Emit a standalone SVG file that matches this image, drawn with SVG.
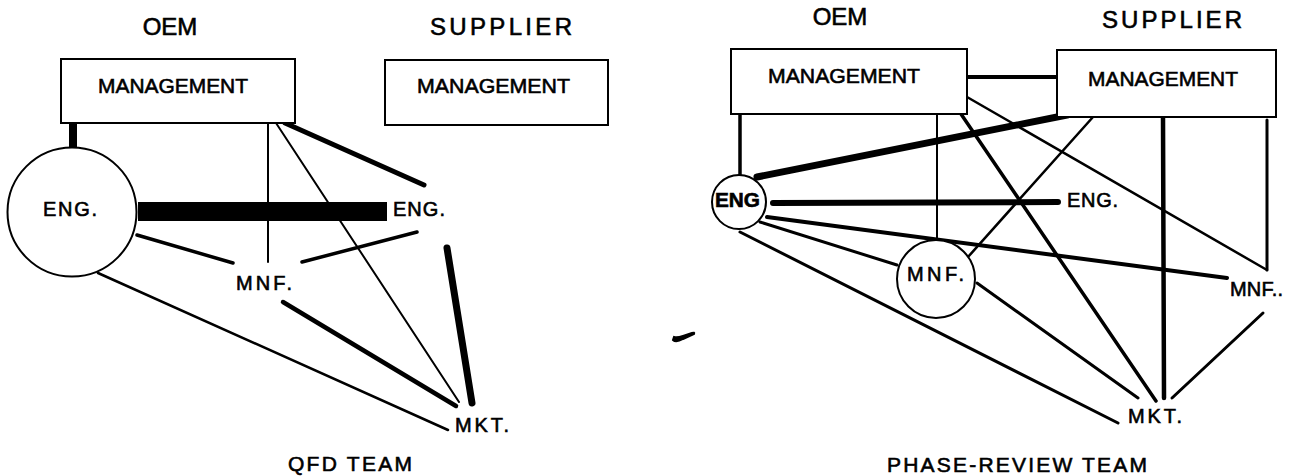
<svg xmlns="http://www.w3.org/2000/svg" width="1292" height="476" viewBox="0 0 1292 476">
<style>
text{font-family:"Liberation Sans",Arial,sans-serif;fill:#000;stroke:#000;stroke-width:0.6}
.hd{font-size:24px}
.mg{font-size:21px}
.lb{font-size:20px}
.tt{font-size:21px}
.box{fill:#fff;stroke:#000;stroke-width:2}
.nd{fill:#fff;stroke:#000;stroke-width:2}
.c line{stroke:#000;stroke-linecap:round}
</style>
<rect width="1292" height="476" fill="#fff"/>

<!-- LEFT PANEL: QFD TEAM -->
<g id="connectors-qfd" class="c">
  <line x1="73" y1="123" x2="73" y2="148" stroke-width="8" style="stroke-linecap:butt"/>
  <line x1="138" y1="211.5" x2="387" y2="211.5" stroke-width="19" style="stroke-linecap:butt"/>
  <line x1="268" y1="123" x2="268" y2="262" stroke-width="2"/>
  <line x1="276" y1="123" x2="459" y2="402" stroke-width="2"/>
  <line x1="285" y1="123" x2="424" y2="185" stroke-width="5"/>
  <line x1="137" y1="235" x2="233" y2="263" stroke-width="3.5"/>
  <line x1="417" y1="232" x2="302" y2="262" stroke-width="3.5"/>
  <line x1="98" y1="273" x2="448" y2="430" stroke-width="2.5"/>
  <line x1="283" y1="302" x2="456" y2="406" stroke-width="4.5"/>
  <line x1="447" y1="248" x2="472" y2="403" stroke-width="7"/>
</g>
<g id="qfd-oem-label"><text class="hd" x="170" y="35" text-anchor="middle">OEM</text></g>
<g id="qfd-supplier-label"><text class="hd" x="430" y="35" textLength="142" lengthAdjust="spacing">SUPPLIER</text></g>
<g id="qfd-oem-mgmt">
  <rect class="box" x="61" y="59" width="234" height="64"/>
  <text class="mg" x="98" y="93" textLength="150" lengthAdjust="spacingAndGlyphs">MANAGEMENT</text>
</g>
<g id="qfd-sup-mgmt">
  <rect class="box" x="385" y="60" width="223" height="65"/>
  <text class="mg" x="417" y="93" textLength="153" lengthAdjust="spacingAndGlyphs">MANAGEMENT</text>
</g>
<g id="qfd-oem-eng">
  <circle class="nd" cx="72" cy="212" r="64.5"/>
  <text class="lb" x="43" y="216" textLength="54" lengthAdjust="spacing">ENG.</text>
</g>
<g id="qfd-sup-eng"><text class="lb" x="393" y="216" textLength="52" lengthAdjust="spacing">ENG.</text></g>
<g id="qfd-mnf"><text class="lb" x="236" y="290" textLength="56" lengthAdjust="spacing">MNF.</text></g>
<g id="qfd-mkt"><text class="lb" x="455" y="432" textLength="54" lengthAdjust="spacing">MKT.</text></g>
<g id="qfd-title"><text class="tt" x="288" y="471" textLength="124" lengthAdjust="spacing">QFD TEAM</text></g>

<!-- stray mark -->
<path d="M673,340 Q676,343 683,339 L694,334 Q695,332 692,333 L683,336 Q677,338 674,337 Z" fill="#000" stroke="#000" stroke-width="2"/>

<!-- RIGHT PANEL: PHASE-REVIEW TEAM -->
<g id="connectors-phase" class="c">
  <line x1="967" y1="77" x2="1057" y2="77" stroke-width="4"/>
  <line x1="740" y1="114" x2="740" y2="175" stroke-width="3.5"/>
  <line x1="757" y1="177" x2="1067" y2="115" stroke-width="7"/>
  <line x1="773" y1="203" x2="1058" y2="202" stroke-width="6"/>
  <line x1="937" y1="114" x2="937" y2="240" stroke-width="2"/>
  <line x1="961" y1="114" x2="1156" y2="401" stroke-width="3.5"/>
  <line x1="967" y1="97" x2="1267" y2="270" stroke-width="2.5"/>
  <line x1="1093" y1="117" x2="968" y2="257" stroke-width="2.5"/>
  <line x1="1163" y1="117" x2="1164" y2="398" stroke-width="4.5"/>
  <line x1="1267" y1="120" x2="1267" y2="270" stroke-width="3"/>
  <line x1="767" y1="217" x2="1227" y2="278" stroke-width="4"/>
  <line x1="760" y1="222" x2="897" y2="265" stroke-width="3"/>
  <line x1="740" y1="232" x2="1118" y2="423" stroke-width="3"/>
  <line x1="977" y1="283" x2="1138" y2="398" stroke-width="3"/>
  <line x1="1263" y1="313" x2="1172" y2="398" stroke-width="3"/>
</g>
<g id="pr-oem-label"><text class="hd" x="840" y="25" text-anchor="middle">OEM</text></g>
<g id="pr-supplier-label"><text class="hd" x="1102" y="28" textLength="140" lengthAdjust="spacing">SUPPLIER</text></g>
<g id="pr-oem-mgmt">
  <rect class="box" x="731" y="49" width="236" height="65"/>
  <text class="mg" x="768" y="83" textLength="152" lengthAdjust="spacingAndGlyphs">MANAGEMENT</text>
</g>
<g id="pr-sup-mgmt">
  <rect class="box" x="1057" y="50" width="219" height="67"/>
  <text class="mg" x="1088" y="86" textLength="150" lengthAdjust="spacingAndGlyphs">MANAGEMENT</text>
</g>
<g id="pr-oem-eng">
  <circle class="nd" cx="739" cy="202" r="27"/>
  <text class="lb" x="715" y="207" textLength="45" lengthAdjust="spacingAndGlyphs" font-weight="bold">ENG</text>
</g>
<g id="pr-sup-eng"><text class="lb" x="1067" y="207" textLength="51" lengthAdjust="spacing">ENG.</text></g>
<g id="pr-oem-mnf">
  <circle class="nd" cx="936" cy="279" r="39"/>
  <text class="lb" x="907" y="281" textLength="57" lengthAdjust="spacing">MNF.</text>
</g>
<g id="pr-sup-mnf"><text class="lb" x="1230" y="296" textLength="53" lengthAdjust="spacing">MNF..</text></g>
<g id="pr-mkt"><text class="lb" x="1128" y="423" textLength="54" lengthAdjust="spacing">MKT.</text></g>
<g id="pr-title"><text class="tt" x="887" y="472" textLength="260" lengthAdjust="spacing">PHASE-REVIEW TEAM</text></g>
</svg>
